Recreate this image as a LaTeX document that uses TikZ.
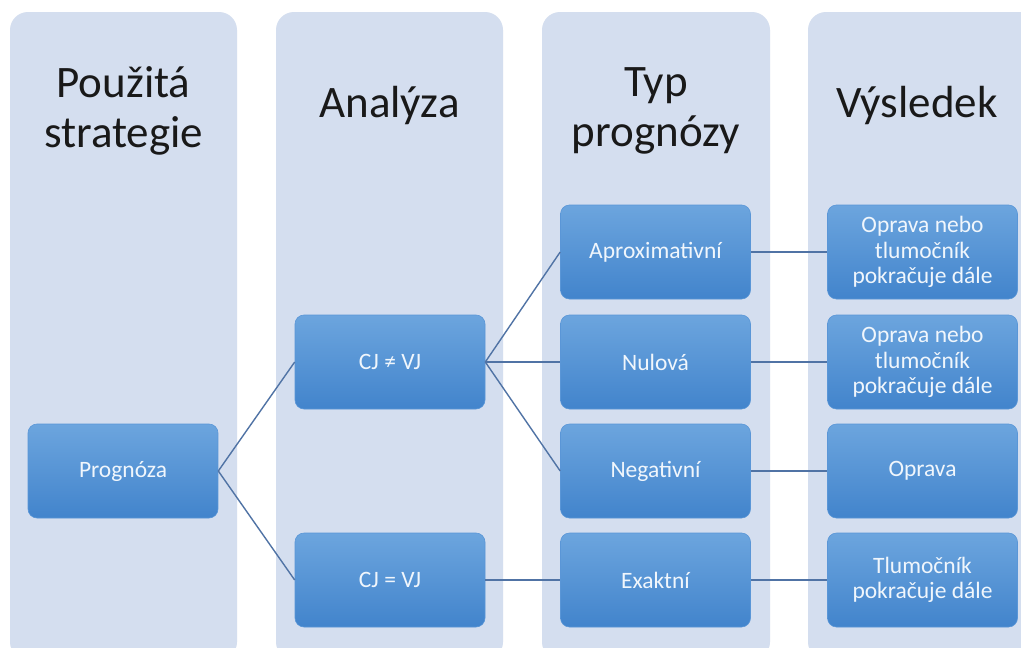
\documentclass[tikz,border=0pt]{standalone}
\usepackage{fontspec}
\setmainfont{Carlito}
\definecolor{colbg}{RGB}{212,222,239}
\definecolor{boxtop}{RGB}{108,165,222}
\definecolor{boxbot}{RGB}{66,132,204}
\definecolor{boxedge}{RGB}{90,150,215}
\definecolor{linkcol}{RGB}{80,115,165}
\definecolor{boxtext}{RGB}{240,246,252}
\tikzset{
  column/.style={fill=colbg, draw=none, rounded corners=18pt},
  stagebox/.style={rectangle, rounded corners=9pt, minimum width=190pt, minimum height=94pt,
    top color=boxtop, bottom color=boxbot, draw=boxedge, line width=0.6pt,
    text=boxtext, font=\fontsize{23.5}{25.5}\selectfont, align=center, inner sep=2pt},
  title/.style={font=\fontsize{45}{50}\selectfont, text=black!90, align=center},
  link/.style={draw=linkcol, line width=1.4pt}
}
\begin{document}
\begin{tikzpicture}[x=1pt,y=-1pt]
\useasboundingbox (0,0) rectangle (1021,648);
\fill[white] (0,0) rectangle (1021,648);
\begin{scope}
\clip (0,0) rectangle (1021,648);
\fill[column] (10,12) rectangle (237,660);
\fill[column] (276,12) rectangle (503,660);
\fill[column] (542,12) rectangle (770,660);
\fill[column] (808,12) rectangle (1045,660);
\end{scope}
\node[title] (t1) at (123.5,111) {Použitá\\strategie};
\node[title] (t2) at (389.5,106) {Analýza};
\node[title] (t3) at (656,111) {Typ\\prognózy};
\node[title] (t4) at (917,106) {Výsledek};

\node[stagebox] (prog) at (123,471) {Prognóza};
\node[stagebox] (neq) at (390,362) {CJ ≠ VJ};
\node[stagebox] (eq) at (390,580) {CJ = VJ};
\node[stagebox] (apr) at (655.5,252) {Aproximativní};
\node[stagebox] (nul) at (655.5,362) {Nulová};
\node[stagebox] (neg) at (655.5,471) {Negativní};
\node[stagebox] (exa) at (655.5,580) {Exaktní};
\node[stagebox] (r1) at (922.5,252) {Oprava nebo\\tlumočník\\pokračuje dále};
\node[stagebox] (r2) at (922.5,362) {Oprava nebo\\tlumočník\\pokračuje dále};
\node[stagebox] (r3) at (922.5,471) {Oprava};
\node[stagebox] (r4) at (922.5,580) {Tlumočník\\pokračuje dále};

\draw[link] (prog.east) -- (neq.west);
\draw[link] (prog.east) -- (eq.west);
\draw[link] (neq.east) -- (apr.west);
\draw[link] (neq.east) -- (nul.west);
\draw[link] (neq.east) -- (neg.west);
\draw[link] (eq.east) -- (exa.west);
\draw[link] (apr.east) -- (r1.west);
\draw[link] (nul.east) -- (r2.west);
\draw[link] (neg.east) -- (r3.west);
\draw[link] (exa.east) -- (r4.west);
\end{tikzpicture}
\end{document}
